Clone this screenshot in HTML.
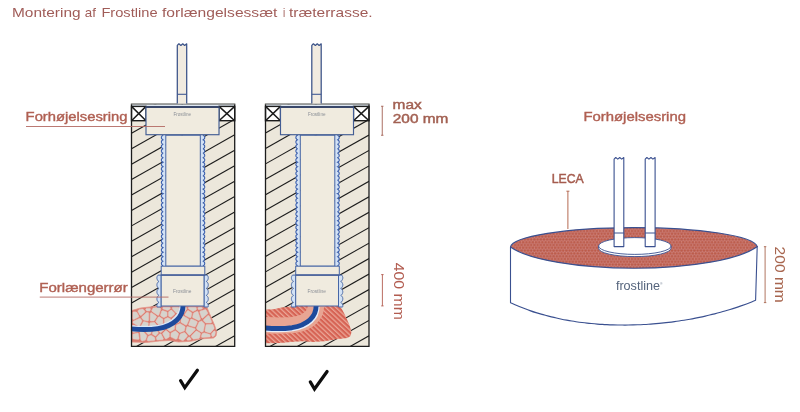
<!DOCTYPE html>
<html lang="da">
<head>
<meta charset="utf-8">
<title>Montering af Frostline forlængelsessæt i træterrasse</title>
<style>html,body{margin:0;padding:0;background:#fff;overflow:hidden}svg{display:block;will-change:transform}</style>
</head>
<body>
<svg width="800" height="412" viewBox="0 0 800 412" role="img" aria-label="Montering af Frostline forlængelsessæt i træterrasse">
<style>.t{font-family:"Liberation Sans",sans-serif}</style>
<rect width="800" height="412" fill="#fff"/>
<text y="17.4" font-size="13.3" fill="#a05c58" class="t"><tspan x="12" textLength="68.6" lengthAdjust="spacingAndGlyphs">Montering</tspan> <tspan x="84.8" textLength="11.1" lengthAdjust="spacingAndGlyphs">af</tspan> <tspan x="101.4" textLength="56.2" lengthAdjust="spacingAndGlyphs">Frostline</tspan> <tspan x="162.0" textLength="115.4" lengthAdjust="spacingAndGlyphs">forlængelsessæt</tspan> <tspan x="283.0" textLength="2.2" lengthAdjust="spacingAndGlyphs">i</tspan> <tspan x="289.0" textLength="83.6" lengthAdjust="spacingAndGlyphs">træterrasse.</tspan></text>
<rect x="131.5" y="104.25" width="103.19999999999999" height="242.05" fill="#ece7db"/>
<clipPath id="clip1L"><rect x="131.5" y="104.25" width="51.5" height="242.05"/></clipPath>
<clipPath id="clip1R"><rect x="183.0" y="104.25" width="51.69999999999999" height="242.05"/></clipPath>
<g clip-path="url(#clip1L)" stroke="#1c1c1c" stroke-width="1.1" fill="none">
<line x1="131.5" y1="117.87" x2="183.0" y2="88.77"/>
<line x1="131.5" y1="133.30" x2="183.0" y2="104.20"/>
<line x1="131.5" y1="148.73" x2="183.0" y2="119.63"/>
<line x1="131.5" y1="164.16" x2="183.0" y2="135.06"/>
<line x1="131.5" y1="179.59" x2="183.0" y2="150.49"/>
<line x1="131.5" y1="195.02" x2="183.0" y2="165.92"/>
<line x1="131.5" y1="210.45" x2="183.0" y2="181.35"/>
<line x1="131.5" y1="225.88" x2="183.0" y2="196.78"/>
<line x1="131.5" y1="241.31" x2="183.0" y2="212.21"/>
<line x1="131.5" y1="256.74" x2="183.0" y2="227.64"/>
<line x1="131.5" y1="272.17" x2="183.0" y2="243.07"/>
<line x1="131.5" y1="287.60" x2="183.0" y2="258.50"/>
<line x1="131.5" y1="303.03" x2="183.0" y2="273.93"/>
<line x1="131.5" y1="318.46" x2="183.0" y2="289.36"/>
<line x1="131.5" y1="333.89" x2="183.0" y2="304.79"/>
<line x1="131.5" y1="349.32" x2="183.0" y2="320.22"/>
<line x1="131.5" y1="364.75" x2="183.0" y2="335.65"/>
<line x1="131.5" y1="380.18" x2="183.0" y2="351.08"/>
<line x1="131.5" y1="395.61" x2="183.0" y2="366.51"/>
<line x1="131.5" y1="411.04" x2="183.0" y2="381.94"/>
<line x1="131.5" y1="426.47" x2="183.0" y2="397.37"/>
</g>
<g clip-path="url(#clip1R)" stroke="#1c1c1c" stroke-width="1.1" fill="none">
<line x1="234.7" y1="119.35" x2="183.0" y2="148.56"/>
<line x1="234.7" y1="134.80" x2="183.0" y2="164.01"/>
<line x1="234.7" y1="150.25" x2="183.0" y2="179.46"/>
<line x1="234.7" y1="165.70" x2="183.0" y2="194.91"/>
<line x1="234.7" y1="181.15" x2="183.0" y2="210.36"/>
<line x1="234.7" y1="196.60" x2="183.0" y2="225.81"/>
<line x1="234.7" y1="212.05" x2="183.0" y2="241.26"/>
<line x1="234.7" y1="227.50" x2="183.0" y2="256.71"/>
<line x1="234.7" y1="242.95" x2="183.0" y2="272.16"/>
<line x1="234.7" y1="258.40" x2="183.0" y2="287.61"/>
<line x1="234.7" y1="273.85" x2="183.0" y2="303.06"/>
<line x1="234.7" y1="289.30" x2="183.0" y2="318.51"/>
<line x1="234.7" y1="304.75" x2="183.0" y2="333.96"/>
<line x1="234.7" y1="320.20" x2="183.0" y2="349.41"/>
<line x1="234.7" y1="335.65" x2="183.0" y2="364.86"/>
<line x1="234.7" y1="351.10" x2="183.0" y2="380.31"/>
<line x1="234.7" y1="366.55" x2="183.0" y2="395.76"/>
<line x1="234.7" y1="382.00" x2="183.0" y2="411.21"/>
<line x1="234.7" y1="397.45" x2="183.0" y2="426.66"/>
<line x1="234.7" y1="412.90" x2="183.0" y2="442.11"/>
<line x1="234.7" y1="428.35" x2="183.0" y2="457.56"/>
</g>
<path d="M131.5,342.0 131.5,342.0 131.5,342.0 146.5,342.5 146.5,342.5 146.5,342.5 159.5,341.0 159.5,341.0 169.4,340.5 169.5,340.5 169.6,340.5 178.5,342.0 178.5,342.0 178.5,342.0 190.5,341.3 190.5,341.3 202.4,338.8 202.6,338.8 213.5,338.0 213.5,338.0 213.5,338.0 216.0,336.0 216.0,336.0 216.0,336.0 216.8,332.0 216.8,332.0 216.8,332.0 214.5,325.0 214.5,325.0 209.5,313.5 209.5,313.5 207.0,307.5 207.0,307.5 207.0,307.5 203.5,306.0 203.5,306.0 203.5,306.0 161.5,306.0 161.5,306.0 156.5,306.2 156.5,306.2 140.5,308.0 140.5,308.0 140.5,308.0 131.5,310.6 131.5,310.6 131.5,310.6Z" fill="#da7c70" stroke="#e3958a" stroke-width="0.8"/>
<path d="M138.3,331.5 138.9,331.2 139.5,330.2 138.7,328.1 134.1,325.2 133.6,325.1 133.0,325.4 132.7,326.1 132.7,331.4 132.9,332.1 133.8,332.4Z M132.7,338.1 132.9,338.7 133.5,339.0 138.2,339.5 138.9,339.2 139.2,338.4 138.4,333.4 137.6,333.1 133.0,334.1 132.7,334.8Z M132.7,318.5 133.0,319.3 133.9,319.5 138.8,317.0 138.9,316.1 136.8,312.3 136.4,311.9 133.6,311.8 132.8,312.3Z M132.8,322.1 133.1,323.0 138.2,326.1 138.8,326.3 139.6,325.8 141.9,321.3 142.0,320.7 140.5,318.6 139.6,318.3 133.2,321.3Z M140.8,339.7 141.6,340.8 142.2,341.1 145.2,340.2 145.6,339.8 146.9,336.1 146.7,335.2 143.0,331.3 140.8,331.2 139.9,332.3Z M140.6,329.1 141.4,329.8 143.0,329.9 143.7,329.6 148.1,325.7 148.4,323.4 148.2,322.8 147.7,322.4 144.2,321.6 143.3,321.8 140.3,327.4 140.2,328.0Z M139.8,315.1 140.5,315.5 141.2,315.4 144.9,312.0 144.8,311.1 142.9,309.1 140.8,309.2 138.9,309.7 138.0,310.7 137.9,311.5Z M143.2,319.8 143.8,320.2 147.6,321.0 148.5,320.6 148.7,320.0 148.8,313.5 148.4,312.6 147.1,312.4 146.5,312.5 141.8,316.8 141.7,317.9Z M145.3,330.0 145.0,330.6 145.1,331.3 147.9,334.4 148.6,334.5 150.3,333.9 150.8,333.5 151.6,330.5 149.2,327.6 148.2,327.5Z M154.0,322.3 150.1,322.8 149.8,323.2 149.6,325.7 152.3,329.0 153.2,329.3 156.1,328.5 157.1,326.0 157.1,325.5 154.7,322.6Z M146.4,310.7 147.1,311.0 149.5,311.0 150.1,310.6 150.5,309.6 150.5,308.7 149.7,308.2 146.2,308.6 145.8,309.0 145.6,309.6Z M151.7,312.8 150.8,312.7 150.2,313.4 150.1,320.4 150.4,320.9 151.0,321.1 153.9,320.9 154.4,320.5 156.5,317.3 156.6,316.5 156.2,315.9Z M147.1,339.6 147.2,340.5 148.3,341.1 154.4,340.4 154.9,340.0 155.1,339.4 154.7,337.5 151.6,335.4 151.0,335.2 148.4,336.2Z M152.5,334.3 155.3,336.0 155.8,335.9 158.3,333.2 158.2,332.3 156.8,330.4 156.3,330.1 153.1,330.9 152.3,333.3Z M158.0,324.2 158.8,324.5 162.2,324.1 162.7,323.8 163.0,323.3 162.9,319.0 159.4,316.7 158.2,317.1 155.7,321.2 155.9,321.9Z M151.8,310.2 151.7,310.8 152.0,311.4 157.6,315.2 158.2,315.4 159.0,314.8 160.8,309.2 160.2,307.8 159.8,307.4 156.6,307.4 153.1,307.9Z M156.3,337.9 156.8,339.8 157.4,340.0 162.5,339.7 163.2,339.3 163.4,338.6 161.3,334.3 160.9,333.9 160.1,333.8 159.5,334.1 156.4,337.2Z M157.7,328.5 157.7,329.4 159.7,332.1 160.2,332.4 161.1,332.5 164.9,329.1 165.0,328.5 164.8,326.8 164.5,326.2 163.3,325.4 159.1,325.9 158.5,326.3Z M163.3,317.5 164.1,317.6 166.9,316.2 167.1,315.7 167.1,312.5 166.5,311.7 162.6,310.4 161.7,311.0 160.4,315.2 160.8,315.9Z M165.4,330.6 162.6,333.4 162.7,334.0 165.3,338.8 166.2,338.9 169.3,337.0 169.4,333.1 166.4,330.6 165.9,330.4Z M165.1,324.9 166.1,325.1 171.3,322.7 171.5,321.9 170.7,319.2 170.4,318.7 167.7,317.5 164.6,318.9 164.4,319.5 164.4,323.9Z M163.6,307.2 163.0,307.4 162.7,307.9 162.7,308.5 163.0,308.9 167.4,310.5 168.0,310.4 170.0,309.0 170.4,308.4 170.2,307.6 169.6,307.2Z M166.4,328.4 166.7,329.0 169.8,331.4 170.7,331.6 174.5,329.3 174.7,325.2 174.3,324.8 172.9,324.0 172.2,323.9 166.7,326.4 166.3,327.0Z M168.9,311.4 168.5,312.1 168.5,315.9 168.9,316.4 170.5,317.2 171.5,317.1 174.7,314.2 174.6,313.1 171.6,310.1 170.8,310.1Z M171.4,332.8 170.9,333.6 170.8,336.5 171.1,337.1 175.5,339.2 176.1,339.2 177.1,338.7 178.6,334.2 178.4,333.3 175.7,331.0 175.1,330.8Z M175.1,323.6 175.9,323.6 178.9,322.3 179.3,321.8 180.0,316.3 179.7,315.7 178.5,314.8 176.3,314.7 172.2,318.6 172.2,319.2 173.1,322.3Z M172.2,308.1 172.4,308.9 176.3,313.0 177.4,313.3 178.2,312.9 179.2,308.3 178.8,307.4 178.2,307.2 173.2,307.2 172.5,307.5Z M176.7,324.8 176.1,325.6 176.0,329.4 179.3,332.3 180.2,332.5 184.3,330.9 185.2,327.2 184.8,326.3 180.0,323.5Z M180.5,314.6 181.3,314.8 182.6,314.5 183.1,314.2 186.7,309.2 186.8,308.6 186.3,307.4 185.6,307.2 181.6,307.2 180.8,307.6 179.6,313.4 179.8,314.0Z M189.8,337.3 189.1,337.0 188.4,337.2 186.9,338.8 186.9,339.4 187.1,339.9 187.9,340.3 190.2,340.1 190.7,339.9 191.0,339.4 191.0,338.8Z M180.6,333.8 180.0,334.5 178.9,338.1 178.9,338.7 179.3,339.1 182.1,340.5 183.4,340.5 187.2,336.5 187.3,335.5 185.2,332.9 184.7,332.6 184.1,332.6Z M185.0,313.9 184.8,314.7 185.2,315.4 189.6,317.8 190.2,317.9 190.7,317.7 191.1,317.2 191.9,313.2 191.4,312.5 188.5,310.6 187.9,310.5 187.3,310.8Z M181.3,316.8 180.9,322.2 181.3,322.6 185.6,325.1 186.3,325.2 186.9,324.6 188.9,319.9 188.9,319.3 188.4,318.7 183.4,315.9 182.0,316.1Z M187.8,326.6 187.1,326.6 186.7,327.1 185.8,331.3 188.7,335.0 189.6,335.3 190.2,335.0 195.1,330.0 195.4,329.1 194.7,328.4Z M190.9,319.1 190.5,319.6 188.6,324.2 188.6,325.1 189.2,325.5 194.5,326.9 195.2,326.8 195.6,326.3 197.3,322.5 197.2,321.6 196.8,321.2 191.9,319.0Z M189.1,307.2 188.6,307.3 188.2,307.8 188.4,308.8 192.6,311.6 193.2,311.5 196.0,310.1 196.5,309.5 196.3,307.8 195.7,307.2Z M191.4,335.7 191.1,336.2 191.2,336.9 193.4,339.3 198.9,338.4 199.6,337.7 200.5,333.6 200.2,333.1 197.1,331.1 196.4,330.9 195.8,331.2Z M193.8,312.8 193.3,313.4 192.5,316.9 192.8,317.8 198.4,320.4 198.9,320.4 200.1,319.8 200.5,318.9 198.0,311.5 197.6,311.2 197.0,311.2Z M201.0,332.0 201.9,332.2 203.0,331.7 203.4,331.3 204.7,324.3 204.4,323.7 202.0,321.2 201.3,320.9 199.0,322.0 196.4,327.9 197.1,329.4Z M198.0,309.1 198.5,309.7 199.2,309.8 202.0,309.0 202.4,308.6 202.5,307.9 201.7,307.2 198.5,307.2 197.8,307.9Z M201.3,336.4 201.6,337.3 202.3,337.6 209.6,337.1 210.2,336.7 210.4,336.1 210.1,334.8 209.6,334.3 204.1,332.8 202.1,333.7Z M201.5,317.6 202.1,318.2 202.9,318.1 207.7,313.8 207.8,313.0 206.0,309.7 205.3,309.6 200.4,310.9 199.8,311.4 199.7,312.2Z M205.4,322.7 206.1,323.0 210.8,323.0 211.7,322.4 211.7,321.6 209.3,316.1 208.9,315.6 207.8,315.6 203.4,319.7 203.4,320.7Z M209.7,332.9 210.7,332.7 214.1,328.7 214.2,328.1 213.2,325.1 212.9,324.6 212.4,324.3 206.5,324.5 205.9,325.2 204.9,330.6 205.0,331.2 205.6,331.7Z M211.8,336.0 212.3,336.7 213.0,336.8 214.8,335.4 215.5,332.1 215.0,331.1 214.4,330.9 213.9,331.1 211.5,333.8 211.4,334.4Z" fill="#d6d3cd" stroke="#ecc3ba" stroke-width="0.5"/>
<path d="M183.0,306 C183.0,316 175.0,326 158.0,328.6 C149.5,329.8 139.5,329.6 131.5,328.9" fill="none" stroke="#dbe8f8" stroke-width="5.5" transform="translate(-0.7,-0.9)"/>
<path d="M183.0,306 C183.0,316 175.0,326 158.0,328.6 C149.5,329.8 139.5,329.6 131.5,328.9" fill="none" stroke="#1d4a9c" stroke-width="4.9"/>
<rect x="131.5" y="104.25" width="103.19999999999999" height="2.6" fill="#dfe8f2"/>
<rect x="131.5" y="106.4" width="14.5" height="14.3" fill="#fff" stroke="#1c1c1c" stroke-width="1.4"/>
<path d="M131.5,106.4 L146.0,120.7 M146.0,106.4 L131.5,120.7" stroke="#1c1c1c" stroke-width="1.5" fill="none"/>
<rect x="219.0" y="106.4" width="15.699999999999989" height="14.3" fill="#fff" stroke="#1c1c1c" stroke-width="1.4"/>
<path d="M219.0,106.4 L234.7,120.7 M234.7,106.4 L219.0,120.7" stroke="#1c1c1c" stroke-width="1.5" fill="none"/>
<path d="M163.2,135.2 162.4,135.6 162.0,135.9 161.8,136.3 161.6,136.6 161.4,137.0 161.4,137.3 161.4,137.7 161.4,138.0 161.6,138.4 161.8,138.7 162.1,139.1 162.5,139.4 163.0,139.8 162.4,140.1 162.0,140.5 161.7,140.8 161.5,141.2 161.4,141.5 161.4,141.9 161.4,142.2 161.5,142.6 161.6,142.9 161.8,143.3 162.1,143.6 162.6,144.0 162.8,144.3 162.3,144.7 161.9,145.0 161.7,145.4 161.5,145.7 161.4,146.1 161.4,146.4 161.4,146.8 161.5,147.1 161.6,147.5 161.9,147.8 162.2,148.2 162.7,148.5 162.7,148.9 162.2,149.2 161.9,149.6 161.7,149.9 161.5,150.3 161.4,150.6 161.4,151.0 161.4,151.3 161.5,151.7 161.7,152.0 161.9,152.4 162.3,152.7 162.8,153.1 162.6,153.4 162.2,153.8 161.9,154.1 161.6,154.5 161.5,154.8 161.4,155.2 161.4,155.5 161.4,155.9 161.5,156.2 161.7,156.6 162.0,156.9 162.3,157.3 162.9,157.6 162.6,158.0 162.1,158.3 161.8,158.7 161.6,159.0 161.4,159.4 161.4,159.7 161.4,160.1 161.4,160.4 161.5,160.8 161.7,161.1 162.0,161.5 162.4,161.8 163.1,162.2 162.5,162.5 162.1,162.9 161.8,163.2 161.6,163.6 161.4,163.9 161.4,164.3 161.4,164.6 161.4,165.0 161.6,165.3 161.8,165.7 162.1,166.0 162.5,166.4 163.1,166.7 162.4,167.1 162.0,167.4 161.7,167.8 161.5,168.1 161.4,168.5 161.4,168.8 161.4,169.2 161.4,169.5 161.6,169.9 161.8,170.2 162.1,170.6 162.6,170.9 162.9,171.3 162.3,171.6 162.0,172.0 161.7,172.3 161.5,172.7 161.4,173.0 161.4,173.4 161.4,173.7 161.5,174.1 161.6,174.4 161.9,174.8 162.2,175.1 162.6,175.5 162.8,175.8 162.3,176.2 161.9,176.5 161.7,176.9 161.5,177.2 161.4,177.6 161.4,177.9 161.4,178.3 161.5,178.6 161.7,179.0 161.9,179.3 162.2,179.7 162.7,180.0 162.7,180.4 162.2,180.7 161.9,181.1 161.6,181.4 161.5,181.8 161.4,182.1 161.4,182.5 161.4,182.8 161.5,183.2 161.7,183.5 161.9,183.9 162.3,184.2 162.8,184.6 162.6,184.9 162.2,185.3 161.8,185.6 161.6,186.0 161.5,186.3 161.4,186.7 161.4,187.0 161.4,187.4 161.5,187.7 161.7,188.1 162.0,188.4 162.4,188.8 163.0,189.1 162.5,189.5 162.1,189.8 161.8,190.2 161.6,190.5 161.4,190.9 161.4,191.2 161.4,191.6 161.4,191.9 161.5,192.3 161.8,192.6 162.0,193.0 162.4,193.3 163.2,193.7 162.4,194.0 162.0,194.4 161.8,194.7 161.6,195.1 161.4,195.4 161.4,195.8 161.4,196.1 161.4,196.5 161.6,196.8 161.8,197.2 162.1,197.5 162.5,197.9 163.0,198.2 162.4,198.6 162.0,198.9 161.7,199.3 161.5,199.6 161.4,200.0 161.4,200.3 161.4,200.7 161.5,201.1 161.6,201.4 161.8,201.8 162.1,202.1 162.6,202.5 162.9,202.8 162.3,203.2 162.0,203.5 161.7,203.9 161.5,204.2 161.4,204.6 161.4,204.9 161.4,205.3 161.5,205.6 161.6,206.0 161.9,206.3 162.2,206.7 162.7,207.0 162.8,207.4 162.2,207.7 161.9,208.1 161.7,208.4 161.5,208.8 161.4,209.1 161.4,209.5 161.4,209.8 161.5,210.2 161.7,210.5 161.9,210.9 162.3,211.2 162.8,211.6 162.7,211.9 162.2,212.3 161.9,212.6 161.6,213.0 161.5,213.3 161.4,213.7 161.4,214.0 161.4,214.4 161.5,214.7 161.7,215.1 162.0,215.4 162.3,215.8 162.9,216.1 162.6,216.5 162.1,216.8 161.8,217.2 161.6,217.5 161.4,217.9 161.4,218.2 161.4,218.6 161.4,218.9 161.5,219.3 161.7,219.6 162.0,220.0 162.4,220.3 163.0,220.7 162.5,221.0 162.1,221.4 161.8,221.7 161.6,222.1 161.4,222.4 161.4,222.8 161.4,223.1 161.4,223.5 161.6,223.8 161.8,224.2 162.1,224.5 162.5,224.9 163.1,225.2 162.4,225.6 162.0,225.9 161.7,226.3 161.5,226.6 161.4,227.0 161.4,227.3 161.4,227.7 161.4,228.0 161.6,228.4 161.8,228.7 162.1,229.1 162.5,229.4 162.9,229.8 162.3,230.1 162.0,230.5 161.7,230.8 161.5,231.2 161.4,231.5 161.4,231.9 161.4,232.2 161.5,232.6 161.6,232.9 161.8,233.3 162.2,233.6 162.6,234.0 162.8,234.3 162.3,234.7 161.9,235.0 161.7,235.4 161.5,235.7 161.4,236.1 161.4,236.4 161.4,236.8 161.5,237.1 161.6,237.5 161.9,237.8 162.2,238.2 162.7,238.5 162.7,238.9 162.2,239.2 161.9,239.6 161.6,239.9 161.5,240.3 161.4,240.6 161.4,241.0 161.4,241.3 161.5,241.7 161.7,242.0 161.9,242.4 162.3,242.7 162.8,243.1 162.6,243.4 162.2,243.8 161.8,244.1 161.6,244.5 161.5,244.8 161.4,245.2 161.4,245.5 161.4,245.9 161.5,246.2 161.7,246.6 162.0,246.9 162.4,247.3 163.0,247.6 162.5,248.0 162.1,248.3 161.8,248.7 161.6,249.0 161.4,249.4 161.4,249.7 161.4,250.1 161.4,250.4 161.5,250.8 161.7,251.1 162.0,251.5 162.4,251.8 163.1,252.2 162.5,252.5 162.1,252.9 161.8,253.2 161.6,253.6 161.4,253.9 161.4,254.3 161.4,254.6 161.4,255.0 161.6,255.3 161.8,255.7 162.1,256.0 162.5,256.4 163.0,256.7 162.4,257.1 162.0,257.4 161.7,257.8 161.5,258.1 161.4,258.5 161.4,258.8 161.4,259.2 161.4,259.5 161.6,259.9 161.8,260.2 162.1,260.6 162.6,260.9 162.9,261.3 162.3,261.6 162.0,262.0 161.7,262.3 161.5,262.7 161.4,263.0 161.4,263.4 161.4,263.7 161.5,264.1 161.6,264.4 161.9,264.8 162.2,265.1 162.7,265.5 162.8,265.8 162.3,266.2 165.8,266.2 165.8,135.2Z" fill="#d3e2f5" stroke="none"/>
<path d="M163.2,135.2 162.4,135.6 162.0,135.9 161.8,136.3 161.6,136.6 161.4,137.0 161.4,137.3 161.4,137.7 161.4,138.0 161.6,138.4 161.8,138.7 162.1,139.1 162.5,139.4 163.0,139.8 162.4,140.1 162.0,140.5 161.7,140.8 161.5,141.2 161.4,141.5 161.4,141.9 161.4,142.2 161.5,142.6 161.6,142.9 161.8,143.3 162.1,143.6 162.6,144.0 162.8,144.3 162.3,144.7 161.9,145.0 161.7,145.4 161.5,145.7 161.4,146.1 161.4,146.4 161.4,146.8 161.5,147.1 161.6,147.5 161.9,147.8 162.2,148.2 162.7,148.5 162.7,148.9 162.2,149.2 161.9,149.6 161.7,149.9 161.5,150.3 161.4,150.6 161.4,151.0 161.4,151.3 161.5,151.7 161.7,152.0 161.9,152.4 162.3,152.7 162.8,153.1 162.6,153.4 162.2,153.8 161.9,154.1 161.6,154.5 161.5,154.8 161.4,155.2 161.4,155.5 161.4,155.9 161.5,156.2 161.7,156.6 162.0,156.9 162.3,157.3 162.9,157.6 162.6,158.0 162.1,158.3 161.8,158.7 161.6,159.0 161.4,159.4 161.4,159.7 161.4,160.1 161.4,160.4 161.5,160.8 161.7,161.1 162.0,161.5 162.4,161.8 163.1,162.2 162.5,162.5 162.1,162.9 161.8,163.2 161.6,163.6 161.4,163.9 161.4,164.3 161.4,164.6 161.4,165.0 161.6,165.3 161.8,165.7 162.1,166.0 162.5,166.4 163.1,166.7 162.4,167.1 162.0,167.4 161.7,167.8 161.5,168.1 161.4,168.5 161.4,168.8 161.4,169.2 161.4,169.5 161.6,169.9 161.8,170.2 162.1,170.6 162.6,170.9 162.9,171.3 162.3,171.6 162.0,172.0 161.7,172.3 161.5,172.7 161.4,173.0 161.4,173.4 161.4,173.7 161.5,174.1 161.6,174.4 161.9,174.8 162.2,175.1 162.6,175.5 162.8,175.8 162.3,176.2 161.9,176.5 161.7,176.9 161.5,177.2 161.4,177.6 161.4,177.9 161.4,178.3 161.5,178.6 161.7,179.0 161.9,179.3 162.2,179.7 162.7,180.0 162.7,180.4 162.2,180.7 161.9,181.1 161.6,181.4 161.5,181.8 161.4,182.1 161.4,182.5 161.4,182.8 161.5,183.2 161.7,183.5 161.9,183.9 162.3,184.2 162.8,184.6 162.6,184.9 162.2,185.3 161.8,185.6 161.6,186.0 161.5,186.3 161.4,186.7 161.4,187.0 161.4,187.4 161.5,187.7 161.7,188.1 162.0,188.4 162.4,188.8 163.0,189.1 162.5,189.5 162.1,189.8 161.8,190.2 161.6,190.5 161.4,190.9 161.4,191.2 161.4,191.6 161.4,191.9 161.5,192.3 161.8,192.6 162.0,193.0 162.4,193.3 163.2,193.7 162.4,194.0 162.0,194.4 161.8,194.7 161.6,195.1 161.4,195.4 161.4,195.8 161.4,196.1 161.4,196.5 161.6,196.8 161.8,197.2 162.1,197.5 162.5,197.9 163.0,198.2 162.4,198.6 162.0,198.9 161.7,199.3 161.5,199.6 161.4,200.0 161.4,200.3 161.4,200.7 161.5,201.1 161.6,201.4 161.8,201.8 162.1,202.1 162.6,202.5 162.9,202.8 162.3,203.2 162.0,203.5 161.7,203.9 161.5,204.2 161.4,204.6 161.4,204.9 161.4,205.3 161.5,205.6 161.6,206.0 161.9,206.3 162.2,206.7 162.7,207.0 162.8,207.4 162.2,207.7 161.9,208.1 161.7,208.4 161.5,208.8 161.4,209.1 161.4,209.5 161.4,209.8 161.5,210.2 161.7,210.5 161.9,210.9 162.3,211.2 162.8,211.6 162.7,211.9 162.2,212.3 161.9,212.6 161.6,213.0 161.5,213.3 161.4,213.7 161.4,214.0 161.4,214.4 161.5,214.7 161.7,215.1 162.0,215.4 162.3,215.8 162.9,216.1 162.6,216.5 162.1,216.8 161.8,217.2 161.6,217.5 161.4,217.9 161.4,218.2 161.4,218.6 161.4,218.9 161.5,219.3 161.7,219.6 162.0,220.0 162.4,220.3 163.0,220.7 162.5,221.0 162.1,221.4 161.8,221.7 161.6,222.1 161.4,222.4 161.4,222.8 161.4,223.1 161.4,223.5 161.6,223.8 161.8,224.2 162.1,224.5 162.5,224.9 163.1,225.2 162.4,225.6 162.0,225.9 161.7,226.3 161.5,226.6 161.4,227.0 161.4,227.3 161.4,227.7 161.4,228.0 161.6,228.4 161.8,228.7 162.1,229.1 162.5,229.4 162.9,229.8 162.3,230.1 162.0,230.5 161.7,230.8 161.5,231.2 161.4,231.5 161.4,231.9 161.4,232.2 161.5,232.6 161.6,232.9 161.8,233.3 162.2,233.6 162.6,234.0 162.8,234.3 162.3,234.7 161.9,235.0 161.7,235.4 161.5,235.7 161.4,236.1 161.4,236.4 161.4,236.8 161.5,237.1 161.6,237.5 161.9,237.8 162.2,238.2 162.7,238.5 162.7,238.9 162.2,239.2 161.9,239.6 161.6,239.9 161.5,240.3 161.4,240.6 161.4,241.0 161.4,241.3 161.5,241.7 161.7,242.0 161.9,242.4 162.3,242.7 162.8,243.1 162.6,243.4 162.2,243.8 161.8,244.1 161.6,244.5 161.5,244.8 161.4,245.2 161.4,245.5 161.4,245.9 161.5,246.2 161.7,246.6 162.0,246.9 162.4,247.3 163.0,247.6 162.5,248.0 162.1,248.3 161.8,248.7 161.6,249.0 161.4,249.4 161.4,249.7 161.4,250.1 161.4,250.4 161.5,250.8 161.7,251.1 162.0,251.5 162.4,251.8 163.1,252.2 162.5,252.5 162.1,252.9 161.8,253.2 161.6,253.6 161.4,253.9 161.4,254.3 161.4,254.6 161.4,255.0 161.6,255.3 161.8,255.7 162.1,256.0 162.5,256.4 163.0,256.7 162.4,257.1 162.0,257.4 161.7,257.8 161.5,258.1 161.4,258.5 161.4,258.8 161.4,259.2 161.4,259.5 161.6,259.9 161.8,260.2 162.1,260.6 162.6,260.9 162.9,261.3 162.3,261.6 162.0,262.0 161.7,262.3 161.5,262.7 161.4,263.0 161.4,263.4 161.4,263.7 161.5,264.1 161.6,264.4 161.9,264.8 162.2,265.1 162.7,265.5 162.8,265.8 162.3,266.2" fill="none" stroke="#3a5fae" stroke-width="1.1"/>
<path d="M202.9,135.2 203.7,135.6 204.1,135.9 204.3,136.3 204.5,136.6 204.7,137.0 204.7,137.3 204.7,137.7 204.7,138.0 204.5,138.4 204.3,138.7 204.0,139.1 203.6,139.4 203.1,139.8 203.7,140.1 204.1,140.5 204.4,140.8 204.6,141.2 204.7,141.5 204.7,141.9 204.7,142.2 204.6,142.6 204.5,142.9 204.3,143.3 204.0,143.6 203.5,144.0 203.3,144.3 203.8,144.7 204.2,145.0 204.4,145.4 204.6,145.7 204.7,146.1 204.7,146.4 204.7,146.8 204.6,147.1 204.5,147.5 204.2,147.8 203.9,148.2 203.4,148.5 203.4,148.9 203.9,149.2 204.2,149.6 204.4,149.9 204.6,150.3 204.7,150.6 204.7,151.0 204.7,151.3 204.6,151.7 204.4,152.0 204.2,152.4 203.8,152.7 203.3,153.1 203.5,153.4 203.9,153.8 204.2,154.1 204.5,154.5 204.6,154.8 204.7,155.2 204.7,155.5 204.7,155.9 204.6,156.2 204.4,156.6 204.1,156.9 203.8,157.3 203.2,157.6 203.5,158.0 204.0,158.3 204.3,158.7 204.5,159.0 204.7,159.4 204.7,159.7 204.7,160.1 204.7,160.4 204.6,160.8 204.4,161.1 204.1,161.5 203.7,161.8 203.0,162.2 203.6,162.5 204.0,162.9 204.3,163.2 204.5,163.6 204.7,163.9 204.7,164.3 204.7,164.6 204.7,165.0 204.5,165.3 204.3,165.7 204.0,166.0 203.6,166.4 203.0,166.7 203.7,167.1 204.1,167.4 204.4,167.8 204.6,168.1 204.7,168.5 204.7,168.8 204.7,169.2 204.7,169.5 204.5,169.9 204.3,170.2 204.0,170.6 203.5,170.9 203.2,171.3 203.8,171.6 204.1,172.0 204.4,172.3 204.6,172.7 204.7,173.0 204.7,173.4 204.7,173.7 204.6,174.1 204.5,174.4 204.2,174.8 203.9,175.1 203.5,175.5 203.3,175.8 203.8,176.2 204.2,176.5 204.4,176.9 204.6,177.2 204.7,177.6 204.7,177.9 204.7,178.3 204.6,178.6 204.4,179.0 204.2,179.3 203.9,179.7 203.4,180.0 203.4,180.4 203.9,180.7 204.2,181.1 204.5,181.4 204.6,181.8 204.7,182.1 204.7,182.5 204.7,182.8 204.6,183.2 204.4,183.5 204.2,183.9 203.8,184.2 203.3,184.6 203.5,184.9 203.9,185.3 204.3,185.6 204.5,186.0 204.6,186.3 204.7,186.7 204.7,187.0 204.7,187.4 204.6,187.7 204.4,188.1 204.1,188.4 203.7,188.8 203.1,189.1 203.6,189.5 204.0,189.8 204.3,190.2 204.5,190.5 204.7,190.9 204.7,191.2 204.7,191.6 204.7,191.9 204.6,192.3 204.3,192.6 204.1,193.0 203.7,193.3 202.9,193.7 203.7,194.0 204.1,194.4 204.3,194.7 204.5,195.1 204.7,195.4 204.7,195.8 204.7,196.1 204.7,196.5 204.5,196.8 204.3,197.2 204.0,197.5 203.6,197.9 203.1,198.2 203.7,198.6 204.1,198.9 204.4,199.3 204.6,199.6 204.7,200.0 204.7,200.3 204.7,200.7 204.6,201.1 204.5,201.4 204.3,201.8 204.0,202.1 203.5,202.5 203.2,202.8 203.8,203.2 204.1,203.5 204.4,203.9 204.6,204.2 204.7,204.6 204.7,204.9 204.7,205.3 204.6,205.6 204.5,206.0 204.2,206.3 203.9,206.7 203.4,207.0 203.3,207.4 203.9,207.7 204.2,208.1 204.4,208.4 204.6,208.8 204.7,209.1 204.7,209.5 204.7,209.8 204.6,210.2 204.4,210.5 204.2,210.9 203.8,211.2 203.3,211.6 203.4,211.9 203.9,212.3 204.2,212.6 204.5,213.0 204.6,213.3 204.7,213.7 204.7,214.0 204.7,214.4 204.6,214.7 204.4,215.1 204.1,215.4 203.8,215.8 203.2,216.1 203.5,216.5 204.0,216.8 204.3,217.2 204.5,217.5 204.7,217.9 204.7,218.2 204.7,218.6 204.7,218.9 204.6,219.3 204.4,219.6 204.1,220.0 203.7,220.3 203.1,220.7 203.6,221.0 204.0,221.4 204.3,221.7 204.5,222.1 204.7,222.4 204.7,222.8 204.7,223.1 204.7,223.5 204.5,223.8 204.3,224.2 204.0,224.5 203.6,224.9 203.0,225.2 203.7,225.6 204.1,225.9 204.4,226.3 204.6,226.6 204.7,227.0 204.7,227.3 204.7,227.7 204.7,228.0 204.5,228.4 204.3,228.7 204.0,229.1 203.6,229.4 203.2,229.8 203.8,230.1 204.1,230.5 204.4,230.8 204.6,231.2 204.7,231.5 204.7,231.9 204.7,232.2 204.6,232.6 204.5,232.9 204.3,233.3 203.9,233.6 203.5,234.0 203.3,234.3 203.8,234.7 204.2,235.0 204.4,235.4 204.6,235.7 204.7,236.1 204.7,236.4 204.7,236.8 204.6,237.1 204.5,237.5 204.2,237.8 203.9,238.2 203.4,238.5 203.4,238.9 203.9,239.2 204.2,239.6 204.5,239.9 204.6,240.3 204.7,240.6 204.7,241.0 204.7,241.3 204.6,241.7 204.4,242.0 204.2,242.4 203.8,242.7 203.3,243.1 203.5,243.4 203.9,243.8 204.3,244.1 204.5,244.5 204.6,244.8 204.7,245.2 204.7,245.5 204.7,245.9 204.6,246.2 204.4,246.6 204.1,246.9 203.7,247.3 203.1,247.6 203.6,248.0 204.0,248.3 204.3,248.7 204.5,249.0 204.7,249.4 204.7,249.7 204.7,250.1 204.7,250.4 204.6,250.8 204.4,251.1 204.1,251.5 203.7,251.8 203.0,252.2 203.6,252.5 204.0,252.9 204.3,253.2 204.5,253.6 204.7,253.9 204.7,254.3 204.7,254.6 204.7,255.0 204.5,255.3 204.3,255.7 204.0,256.0 203.6,256.4 203.1,256.7 203.7,257.1 204.1,257.4 204.4,257.8 204.6,258.1 204.7,258.5 204.7,258.8 204.7,259.2 204.7,259.5 204.5,259.9 204.3,260.2 204.0,260.6 203.5,260.9 203.2,261.3 203.8,261.6 204.1,262.0 204.4,262.3 204.6,262.7 204.7,263.0 204.7,263.4 204.7,263.7 204.6,264.1 204.5,264.4 204.2,264.8 203.9,265.1 203.4,265.5 203.3,265.8 203.8,266.2 200.3,266.2 200.3,135.2Z" fill="#d3e2f5" stroke="none"/>
<path d="M202.9,135.2 203.7,135.6 204.1,135.9 204.3,136.3 204.5,136.6 204.7,137.0 204.7,137.3 204.7,137.7 204.7,138.0 204.5,138.4 204.3,138.7 204.0,139.1 203.6,139.4 203.1,139.8 203.7,140.1 204.1,140.5 204.4,140.8 204.6,141.2 204.7,141.5 204.7,141.9 204.7,142.2 204.6,142.6 204.5,142.9 204.3,143.3 204.0,143.6 203.5,144.0 203.3,144.3 203.8,144.7 204.2,145.0 204.4,145.4 204.6,145.7 204.7,146.1 204.7,146.4 204.7,146.8 204.6,147.1 204.5,147.5 204.2,147.8 203.9,148.2 203.4,148.5 203.4,148.9 203.9,149.2 204.2,149.6 204.4,149.9 204.6,150.3 204.7,150.6 204.7,151.0 204.7,151.3 204.6,151.7 204.4,152.0 204.2,152.4 203.8,152.7 203.3,153.1 203.5,153.4 203.9,153.8 204.2,154.1 204.5,154.5 204.6,154.8 204.7,155.2 204.7,155.5 204.7,155.9 204.6,156.2 204.4,156.6 204.1,156.9 203.8,157.3 203.2,157.6 203.5,158.0 204.0,158.3 204.3,158.7 204.5,159.0 204.7,159.4 204.7,159.7 204.7,160.1 204.7,160.4 204.6,160.8 204.4,161.1 204.1,161.5 203.7,161.8 203.0,162.2 203.6,162.5 204.0,162.9 204.3,163.2 204.5,163.6 204.7,163.9 204.7,164.3 204.7,164.6 204.7,165.0 204.5,165.3 204.3,165.7 204.0,166.0 203.6,166.4 203.0,166.7 203.7,167.1 204.1,167.4 204.4,167.8 204.6,168.1 204.7,168.5 204.7,168.8 204.7,169.2 204.7,169.5 204.5,169.9 204.3,170.2 204.0,170.6 203.5,170.9 203.2,171.3 203.8,171.6 204.1,172.0 204.4,172.3 204.6,172.7 204.7,173.0 204.7,173.4 204.7,173.7 204.6,174.1 204.5,174.4 204.2,174.8 203.9,175.1 203.5,175.5 203.3,175.8 203.8,176.2 204.2,176.5 204.4,176.9 204.6,177.2 204.7,177.6 204.7,177.9 204.7,178.3 204.6,178.6 204.4,179.0 204.2,179.3 203.9,179.7 203.4,180.0 203.4,180.4 203.9,180.7 204.2,181.1 204.5,181.4 204.6,181.8 204.7,182.1 204.7,182.5 204.7,182.8 204.6,183.2 204.4,183.5 204.2,183.9 203.8,184.2 203.3,184.6 203.5,184.9 203.9,185.3 204.3,185.6 204.5,186.0 204.6,186.3 204.7,186.7 204.7,187.0 204.7,187.4 204.6,187.7 204.4,188.1 204.1,188.4 203.7,188.8 203.1,189.1 203.6,189.5 204.0,189.8 204.3,190.2 204.5,190.5 204.7,190.9 204.7,191.2 204.7,191.6 204.7,191.9 204.6,192.3 204.3,192.6 204.1,193.0 203.7,193.3 202.9,193.7 203.7,194.0 204.1,194.4 204.3,194.7 204.5,195.1 204.7,195.4 204.7,195.8 204.7,196.1 204.7,196.5 204.5,196.8 204.3,197.2 204.0,197.5 203.6,197.9 203.1,198.2 203.7,198.6 204.1,198.9 204.4,199.3 204.6,199.6 204.7,200.0 204.7,200.3 204.7,200.7 204.6,201.1 204.5,201.4 204.3,201.8 204.0,202.1 203.5,202.5 203.2,202.8 203.8,203.2 204.1,203.5 204.4,203.9 204.6,204.2 204.7,204.6 204.7,204.9 204.7,205.3 204.6,205.6 204.5,206.0 204.2,206.3 203.9,206.7 203.4,207.0 203.3,207.4 203.9,207.7 204.2,208.1 204.4,208.4 204.6,208.8 204.7,209.1 204.7,209.5 204.7,209.8 204.6,210.2 204.4,210.5 204.2,210.9 203.8,211.2 203.3,211.6 203.4,211.9 203.9,212.3 204.2,212.6 204.5,213.0 204.6,213.3 204.7,213.7 204.7,214.0 204.7,214.4 204.6,214.7 204.4,215.1 204.1,215.4 203.8,215.8 203.2,216.1 203.5,216.5 204.0,216.8 204.3,217.2 204.5,217.5 204.7,217.9 204.7,218.2 204.7,218.6 204.7,218.9 204.6,219.3 204.4,219.6 204.1,220.0 203.7,220.3 203.1,220.7 203.6,221.0 204.0,221.4 204.3,221.7 204.5,222.1 204.7,222.4 204.7,222.8 204.7,223.1 204.7,223.5 204.5,223.8 204.3,224.2 204.0,224.5 203.6,224.9 203.0,225.2 203.7,225.6 204.1,225.9 204.4,226.3 204.6,226.6 204.7,227.0 204.7,227.3 204.7,227.7 204.7,228.0 204.5,228.4 204.3,228.7 204.0,229.1 203.6,229.4 203.2,229.8 203.8,230.1 204.1,230.5 204.4,230.8 204.6,231.2 204.7,231.5 204.7,231.9 204.7,232.2 204.6,232.6 204.5,232.9 204.3,233.3 203.9,233.6 203.5,234.0 203.3,234.3 203.8,234.7 204.2,235.0 204.4,235.4 204.6,235.7 204.7,236.1 204.7,236.4 204.7,236.8 204.6,237.1 204.5,237.5 204.2,237.8 203.9,238.2 203.4,238.5 203.4,238.9 203.9,239.2 204.2,239.6 204.5,239.9 204.6,240.3 204.7,240.6 204.7,241.0 204.7,241.3 204.6,241.7 204.4,242.0 204.2,242.4 203.8,242.7 203.3,243.1 203.5,243.4 203.9,243.8 204.3,244.1 204.5,244.5 204.6,244.8 204.7,245.2 204.7,245.5 204.7,245.9 204.6,246.2 204.4,246.6 204.1,246.9 203.7,247.3 203.1,247.6 203.6,248.0 204.0,248.3 204.3,248.7 204.5,249.0 204.7,249.4 204.7,249.7 204.7,250.1 204.7,250.4 204.6,250.8 204.4,251.1 204.1,251.5 203.7,251.8 203.0,252.2 203.6,252.5 204.0,252.9 204.3,253.2 204.5,253.6 204.7,253.9 204.7,254.3 204.7,254.6 204.7,255.0 204.5,255.3 204.3,255.7 204.0,256.0 203.6,256.4 203.1,256.7 203.7,257.1 204.1,257.4 204.4,257.8 204.6,258.1 204.7,258.5 204.7,258.8 204.7,259.2 204.7,259.5 204.5,259.9 204.3,260.2 204.0,260.6 203.5,260.9 203.2,261.3 203.8,261.6 204.1,262.0 204.4,262.3 204.6,262.7 204.7,263.0 204.7,263.4 204.7,263.7 204.6,264.1 204.5,264.4 204.2,264.8 203.9,265.1 203.4,265.5 203.3,265.8 203.8,266.2" fill="none" stroke="#3a5fae" stroke-width="1.1"/>
<rect x="165.8" y="135.2" width="34.5" height="131" fill="#f0ebdf" stroke="#4666a6" stroke-width="1.0"/>
<rect x="146.0" y="107.0" width="73.0" height="27.7" fill="#f0ebdf" stroke="#435d94" stroke-width="1.15"/>
<line x1="146.0" y1="106.9" x2="219.0" y2="106.9" stroke="#39476a" stroke-width="2.0"/>
<path d="M131.5,104.25 V346.3 H234.7 V104.25" fill="none" stroke="#1c1c1c" stroke-width="1.3"/>
<line x1="130.85" y1="104.05" x2="235.35" y2="104.05" stroke="#4a4d48" stroke-width="1.1"/>
<path d="M158.0,275.1 157.7,275.5 157.5,275.8 157.3,276.2 157.2,276.5 157.0,276.9 157.0,277.2 156.9,277.6 156.9,277.9 156.9,278.3 157.0,278.6 157.0,279.0 157.2,279.3 157.3,279.7 157.5,280.0 157.7,280.4 158.0,280.7 158.4,281.1 159.0,281.4 158.4,281.8 158.0,282.1 157.7,282.5 157.5,282.8 157.3,283.2 157.2,283.5 157.0,283.9 157.0,284.2 156.9,284.6 156.9,284.9 156.9,285.3 157.0,285.6 157.1,286.0 157.2,286.3 157.3,286.7 157.5,287.0 157.7,287.4 158.0,287.7 158.4,288.1 159.0,288.4 158.4,288.8 158.0,289.1 157.7,289.5 157.5,289.8 157.3,290.2 157.2,290.5 157.0,290.9 157.0,291.2 156.9,291.6 156.9,291.9 156.9,292.3 157.0,292.6 157.1,293.0 157.2,293.3 157.3,293.7 157.5,294.0 157.8,294.4 158.0,294.7 158.4,295.1 158.9,295.4 158.3,295.8 158.0,296.1 157.7,296.5 157.5,296.8 157.3,297.2 157.1,297.5 157.0,297.9 157.0,298.2 156.9,298.6 156.9,298.9 156.9,299.3 157.0,299.6 157.1,300.0 157.2,300.3 157.3,300.7 157.5,301.0 157.8,301.4 158.1,301.7 158.4,302.1 158.9,302.4 158.3,302.8 158.0,303.1 157.7,303.5 157.5,303.8 157.3,304.2 157.1,304.5 157.0,304.9 157.0,305.2 156.9,305.6 156.9,305.9 156.9,306.3 157.0,306.6 157.1,307.0 161.2,307.0 161.2,275.1Z" fill="#d3e2f5" stroke="#4666a6" stroke-width="1.0"/>
<path d="M207.2,275.1 207.5,275.5 207.7,275.8 207.9,276.2 208.0,276.5 208.2,276.9 208.2,277.2 208.3,277.6 208.3,277.9 208.3,278.3 208.2,278.6 208.2,279.0 208.0,279.3 207.9,279.7 207.7,280.0 207.5,280.4 207.2,280.7 206.8,281.1 206.2,281.4 206.8,281.8 207.2,282.1 207.5,282.5 207.7,282.8 207.9,283.2 208.0,283.5 208.2,283.9 208.2,284.2 208.3,284.6 208.3,284.9 208.3,285.3 208.2,285.6 208.1,286.0 208.0,286.3 207.9,286.7 207.7,287.0 207.5,287.4 207.2,287.7 206.8,288.1 206.2,288.4 206.8,288.8 207.2,289.1 207.5,289.5 207.7,289.8 207.9,290.2 208.0,290.5 208.2,290.9 208.2,291.2 208.3,291.6 208.3,291.9 208.3,292.3 208.2,292.6 208.1,293.0 208.0,293.3 207.9,293.7 207.7,294.0 207.4,294.4 207.2,294.7 206.8,295.1 206.3,295.4 206.9,295.8 207.2,296.1 207.5,296.5 207.7,296.8 207.9,297.2 208.1,297.5 208.2,297.9 208.2,298.2 208.3,298.6 208.3,298.9 208.3,299.3 208.2,299.6 208.1,300.0 208.0,300.3 207.9,300.7 207.7,301.0 207.4,301.4 207.1,301.7 206.8,302.1 206.3,302.4 206.9,302.8 207.2,303.1 207.5,303.5 207.7,303.8 207.9,304.2 208.1,304.5 208.2,304.9 208.2,305.2 208.3,305.6 208.3,305.9 208.3,306.3 208.2,306.6 208.1,307.0 204.0,307.0 204.0,275.1Z" fill="#d3e2f5" stroke="#4666a6" stroke-width="1.0"/>
<rect x="161.2" y="266.2" width="43.60000000000002" height="8.9" fill="#f0ebdf" stroke="#4666a6" stroke-width="1.0"/>
<rect x="161.2" y="275.1" width="42.800000000000026" height="30.9" fill="#f0ebdf" stroke="#4666a6" stroke-width="1.0"/>
<line x1="161.2" y1="275.1" x2="204.8" y2="275.1" stroke="#425a94" stroke-width="1.3"/>
<text x="182.2" y="115.6" font-size="4.6" fill="#8c9097" text-anchor="middle" class="t">Frostline</text>
<text x="182.2" y="292.7" font-size="4.8" fill="#8c9097" text-anchor="middle" class="t">Frostline</text>
<path d="M177.30,103.6 V45.40 L178.90,43.80 L180.87,45.40 L182.75,43.80 L184.63,45.40 L186.70,43.80 V103.6" fill="#f1ebe0" stroke="#3a5288" stroke-width="1.25" stroke-linejoin="round"/>
<line x1="177.3" y1="94.3" x2="186.7" y2="94.3" stroke="#425a94" stroke-width="1.1"/>
<rect x="265.5" y="104.25" width="103.5" height="242.05" fill="#ece7db"/>
<clipPath id="clip2L"><rect x="265.5" y="104.25" width="52.0" height="242.05"/></clipPath>
<clipPath id="clip2R"><rect x="317.5" y="104.25" width="51.5" height="242.05"/></clipPath>
<g clip-path="url(#clip2L)" stroke="#1c1c1c" stroke-width="1.1" fill="none">
<line x1="265.5" y1="117.57" x2="317.5" y2="88.19"/>
<line x1="265.5" y1="133.00" x2="317.5" y2="103.62"/>
<line x1="265.5" y1="148.43" x2="317.5" y2="119.05"/>
<line x1="265.5" y1="163.86" x2="317.5" y2="134.48"/>
<line x1="265.5" y1="179.29" x2="317.5" y2="149.91"/>
<line x1="265.5" y1="194.72" x2="317.5" y2="165.34"/>
<line x1="265.5" y1="210.15" x2="317.5" y2="180.77"/>
<line x1="265.5" y1="225.58" x2="317.5" y2="196.20"/>
<line x1="265.5" y1="241.01" x2="317.5" y2="211.63"/>
<line x1="265.5" y1="256.44" x2="317.5" y2="227.06"/>
<line x1="265.5" y1="271.87" x2="317.5" y2="242.49"/>
<line x1="265.5" y1="287.30" x2="317.5" y2="257.92"/>
<line x1="265.5" y1="302.73" x2="317.5" y2="273.35"/>
<line x1="265.5" y1="318.16" x2="317.5" y2="288.78"/>
<line x1="265.5" y1="333.59" x2="317.5" y2="304.21"/>
<line x1="265.5" y1="349.02" x2="317.5" y2="319.64"/>
<line x1="265.5" y1="364.45" x2="317.5" y2="335.07"/>
<line x1="265.5" y1="379.88" x2="317.5" y2="350.50"/>
<line x1="265.5" y1="395.31" x2="317.5" y2="365.93"/>
<line x1="265.5" y1="410.74" x2="317.5" y2="381.36"/>
<line x1="265.5" y1="426.17" x2="317.5" y2="396.79"/>
</g>
<g clip-path="url(#clip2R)" stroke="#1c1c1c" stroke-width="1.1" fill="none">
<line x1="369.0" y1="119.55" x2="317.5" y2="148.65"/>
<line x1="369.0" y1="135.00" x2="317.5" y2="164.10"/>
<line x1="369.0" y1="150.45" x2="317.5" y2="179.55"/>
<line x1="369.0" y1="165.90" x2="317.5" y2="195.00"/>
<line x1="369.0" y1="181.35" x2="317.5" y2="210.45"/>
<line x1="369.0" y1="196.80" x2="317.5" y2="225.90"/>
<line x1="369.0" y1="212.25" x2="317.5" y2="241.35"/>
<line x1="369.0" y1="227.70" x2="317.5" y2="256.80"/>
<line x1="369.0" y1="243.15" x2="317.5" y2="272.25"/>
<line x1="369.0" y1="258.60" x2="317.5" y2="287.70"/>
<line x1="369.0" y1="274.05" x2="317.5" y2="303.15"/>
<line x1="369.0" y1="289.50" x2="317.5" y2="318.60"/>
<line x1="369.0" y1="304.95" x2="317.5" y2="334.05"/>
<line x1="369.0" y1="320.40" x2="317.5" y2="349.50"/>
<line x1="369.0" y1="335.85" x2="317.5" y2="364.95"/>
<line x1="369.0" y1="351.30" x2="317.5" y2="380.40"/>
<line x1="369.0" y1="366.75" x2="317.5" y2="395.85"/>
<line x1="369.0" y1="382.20" x2="317.5" y2="411.30"/>
<line x1="369.0" y1="397.65" x2="317.5" y2="426.75"/>
<line x1="369.0" y1="413.10" x2="317.5" y2="442.20"/>
<line x1="369.0" y1="428.55" x2="317.5" y2="457.65"/>
</g>
<clipPath id="sclip"><path d="M265.5,343.2 265.5,343.2 265.5,343.2 280.5,343.0 280.5,343.0 293.5,341.8 293.5,341.8 303.4,341.2 303.5,341.2 303.6,341.2 312.5,342.0 312.5,342.0 324.5,341.3 324.5,341.3 336.5,339.2 336.5,339.2 347.5,338.0 347.5,338.0 347.5,338.0 350.5,336.0 350.5,336.0 350.5,336.0 351.5,332.0 351.5,332.0 351.5,332.0 349.5,325.0 349.5,325.0 349.5,325.0 344.5,314.0 344.5,314.0 341.0,307.5 341.0,307.5 341.0,307.5 337.5,306.0 337.5,306.0 337.5,306.0 295.5,306.0 295.5,306.0 290.5,306.4 290.5,306.4 281.5,307.6 281.5,307.6 273.6,309.2 273.5,309.2 273.4,309.2 265.5,309.6 265.5,309.6 265.5,309.6Z"/></clipPath>
<pattern id="stripe" width="3.5" height="8" patternUnits="userSpaceOnUse" patternTransform="rotate(-47)"><rect width="3.5" height="8" fill="#d66354"/><rect width="1.3" height="8" fill="#eba596"/></pattern>
<path d="M265.5,343.2 265.5,343.2 265.5,343.2 280.5,343.0 280.5,343.0 293.5,341.8 293.5,341.8 303.4,341.2 303.5,341.2 303.6,341.2 312.5,342.0 312.5,342.0 324.5,341.3 324.5,341.3 336.5,339.2 336.5,339.2 347.5,338.0 347.5,338.0 347.5,338.0 350.5,336.0 350.5,336.0 350.5,336.0 351.5,332.0 351.5,332.0 351.5,332.0 349.5,325.0 349.5,325.0 349.5,325.0 344.5,314.0 344.5,314.0 341.0,307.5 341.0,307.5 341.0,307.5 337.5,306.0 337.5,306.0 337.5,306.0 295.5,306.0 295.5,306.0 290.5,306.4 290.5,306.4 281.5,307.6 281.5,307.6 273.6,309.2 273.5,309.2 273.4,309.2 265.5,309.6 265.5,309.6 265.5,309.6Z" fill="url(#stripe)"/>
<g clip-path="url(#sclip)">
<path d="M316.0,304 C316.5,317 306.5,323.5 291.5,325.2 C282.5,326.0 273.5,325.6 264.5,325.2" fill="none" stroke="#e8a593" stroke-width="16.4"/>
</g>
<path d="M316.1,306 C316.1,316.5 308.0,325 292.0,327.7 C283.5,328.8 273.5,328.7 265.5,328.0" fill="none" stroke="#e6eefa" stroke-width="5.5" transform="translate(0.7,0.9)"/>
<path d="M316.1,306 C316.1,316.5 308.0,325 292.0,327.7 C283.5,328.8 273.5,328.7 265.5,328.0" fill="none" stroke="#1d4a9c" stroke-width="4.9"/>
<rect x="265.5" y="104.25" width="103.5" height="2.6" fill="#dfe8f2"/>
<rect x="265.5" y="106.4" width="15.0" height="14.3" fill="#fff" stroke="#1c1c1c" stroke-width="1.4"/>
<path d="M265.5,106.4 L280.5,120.7 M280.5,106.4 L265.5,120.7" stroke="#1c1c1c" stroke-width="1.5" fill="none"/>
<rect x="353.5" y="106.4" width="15.5" height="14.3" fill="#fff" stroke="#1c1c1c" stroke-width="1.4"/>
<path d="M353.5,106.4 L369.0,120.7 M369.0,106.4 L353.5,120.7" stroke="#1c1c1c" stroke-width="1.5" fill="none"/>
<path d="M297.8,135.2 296.9,135.6 296.5,135.9 296.3,136.3 296.1,136.6 295.9,137.0 295.9,137.3 295.9,137.7 295.9,138.0 296.1,138.4 296.3,138.7 296.6,139.1 297.0,139.4 297.5,139.8 296.9,140.1 296.5,140.5 296.2,140.8 296.0,141.2 295.9,141.5 295.9,141.9 295.9,142.2 296.0,142.6 296.1,142.9 296.3,143.3 296.6,143.6 297.1,144.0 297.3,144.3 296.8,144.7 296.4,145.0 296.2,145.4 296.0,145.7 295.9,146.1 295.9,146.4 295.9,146.8 296.0,147.1 296.1,147.5 296.4,147.8 296.7,148.2 297.2,148.5 297.2,148.9 296.7,149.2 296.4,149.6 296.2,149.9 296.0,150.3 295.9,150.6 295.9,151.0 295.9,151.3 296.0,151.7 296.2,152.0 296.4,152.4 296.8,152.7 297.3,153.1 297.1,153.4 296.7,153.8 296.4,154.1 296.1,154.5 296.0,154.8 295.9,155.2 295.9,155.5 295.9,155.9 296.0,156.2 296.2,156.6 296.5,156.9 296.8,157.3 297.4,157.6 297.1,158.0 296.6,158.3 296.3,158.7 296.1,159.0 295.9,159.4 295.9,159.7 295.9,160.1 295.9,160.4 296.0,160.8 296.2,161.1 296.5,161.5 296.9,161.8 297.6,162.2 297.0,162.5 296.6,162.9 296.3,163.2 296.1,163.6 295.9,163.9 295.9,164.3 295.9,164.6 295.9,165.0 296.1,165.3 296.3,165.7 296.6,166.0 297.0,166.4 297.6,166.7 296.9,167.1 296.5,167.4 296.2,167.8 296.0,168.1 295.9,168.5 295.9,168.8 295.9,169.2 295.9,169.5 296.1,169.9 296.3,170.2 296.6,170.6 297.1,170.9 297.4,171.3 296.8,171.6 296.5,172.0 296.2,172.3 296.0,172.7 295.9,173.0 295.9,173.4 295.9,173.7 296.0,174.1 296.1,174.4 296.4,174.8 296.7,175.1 297.1,175.5 297.3,175.8 296.8,176.2 296.4,176.5 296.2,176.9 296.0,177.2 295.9,177.6 295.9,177.9 295.9,178.3 296.0,178.6 296.2,179.0 296.4,179.3 296.7,179.7 297.2,180.0 297.2,180.4 296.7,180.7 296.4,181.1 296.1,181.4 296.0,181.8 295.9,182.1 295.9,182.5 295.9,182.8 296.0,183.2 296.2,183.5 296.4,183.9 296.8,184.2 297.3,184.6 297.1,184.9 296.7,185.3 296.3,185.6 296.1,186.0 296.0,186.3 295.9,186.7 295.9,187.0 295.9,187.4 296.0,187.7 296.2,188.1 296.5,188.4 296.9,188.8 297.5,189.1 297.0,189.5 296.6,189.8 296.3,190.2 296.1,190.5 295.9,190.9 295.9,191.2 295.9,191.6 295.9,191.9 296.0,192.3 296.3,192.6 296.5,193.0 296.9,193.3 297.7,193.7 296.9,194.0 296.5,194.4 296.3,194.7 296.1,195.1 295.9,195.4 295.9,195.8 295.9,196.1 295.9,196.5 296.1,196.8 296.3,197.2 296.6,197.5 297.0,197.9 297.5,198.2 296.9,198.6 296.5,198.9 296.2,199.3 296.0,199.6 295.9,200.0 295.9,200.3 295.9,200.7 296.0,201.1 296.1,201.4 296.3,201.8 296.6,202.1 297.1,202.5 297.4,202.8 296.8,203.2 296.5,203.5 296.2,203.9 296.0,204.2 295.9,204.6 295.9,204.9 295.9,205.3 296.0,205.6 296.1,206.0 296.4,206.3 296.7,206.7 297.2,207.0 297.3,207.4 296.7,207.7 296.4,208.1 296.2,208.4 296.0,208.8 295.9,209.1 295.9,209.5 295.9,209.8 296.0,210.2 296.2,210.5 296.4,210.9 296.8,211.2 297.3,211.6 297.2,211.9 296.7,212.3 296.4,212.6 296.1,213.0 296.0,213.3 295.9,213.7 295.9,214.0 295.9,214.4 296.0,214.7 296.2,215.1 296.5,215.4 296.8,215.8 297.4,216.1 297.1,216.5 296.6,216.8 296.3,217.2 296.1,217.5 295.9,217.9 295.9,218.2 295.9,218.6 295.9,218.9 296.0,219.3 296.2,219.6 296.5,220.0 296.9,220.3 297.5,220.7 297.0,221.0 296.6,221.4 296.3,221.7 296.1,222.1 295.9,222.4 295.9,222.8 295.9,223.1 295.9,223.5 296.1,223.8 296.3,224.2 296.6,224.5 297.0,224.9 297.6,225.2 296.9,225.6 296.5,225.9 296.2,226.3 296.0,226.6 295.9,227.0 295.9,227.3 295.9,227.7 295.9,228.0 296.1,228.4 296.3,228.7 296.6,229.1 297.0,229.4 297.4,229.8 296.8,230.1 296.5,230.5 296.2,230.8 296.0,231.2 295.9,231.5 295.9,231.9 295.9,232.2 296.0,232.6 296.1,232.9 296.3,233.3 296.7,233.6 297.1,234.0 297.3,234.3 296.8,234.7 296.4,235.0 296.2,235.4 296.0,235.7 295.9,236.1 295.9,236.4 295.9,236.8 296.0,237.1 296.1,237.5 296.4,237.8 296.7,238.2 297.2,238.5 297.2,238.9 296.7,239.2 296.4,239.6 296.1,239.9 296.0,240.3 295.9,240.6 295.9,241.0 295.9,241.3 296.0,241.7 296.2,242.0 296.4,242.4 296.8,242.7 297.3,243.1 297.1,243.4 296.7,243.8 296.3,244.1 296.1,244.5 296.0,244.8 295.9,245.2 295.9,245.5 295.9,245.9 296.0,246.2 296.2,246.6 296.5,246.9 296.9,247.3 297.5,247.6 297.0,248.0 296.6,248.3 296.3,248.7 296.1,249.0 295.9,249.4 295.9,249.7 295.9,250.1 295.9,250.4 296.0,250.8 296.2,251.1 296.5,251.5 296.9,251.8 297.6,252.2 297.0,252.5 296.6,252.9 296.3,253.2 296.1,253.6 295.9,253.9 295.9,254.3 295.9,254.6 295.9,255.0 296.1,255.3 296.3,255.7 296.6,256.0 297.0,256.4 297.5,256.7 296.9,257.1 296.5,257.4 296.2,257.8 296.0,258.1 295.9,258.5 295.9,258.8 295.9,259.2 295.9,259.5 296.1,259.9 296.3,260.2 296.6,260.6 297.1,260.9 297.4,261.3 296.8,261.6 296.5,262.0 296.2,262.3 296.0,262.7 295.9,263.0 295.9,263.4 295.9,263.7 296.0,264.1 296.1,264.4 296.4,264.8 296.7,265.1 297.2,265.5 297.3,265.8 296.8,266.2 300.3,266.2 300.3,135.2Z" fill="#d3e2f5" stroke="none"/>
<path d="M297.8,135.2 296.9,135.6 296.5,135.9 296.3,136.3 296.1,136.6 295.9,137.0 295.9,137.3 295.9,137.7 295.9,138.0 296.1,138.4 296.3,138.7 296.6,139.1 297.0,139.4 297.5,139.8 296.9,140.1 296.5,140.5 296.2,140.8 296.0,141.2 295.9,141.5 295.9,141.9 295.9,142.2 296.0,142.6 296.1,142.9 296.3,143.3 296.6,143.6 297.1,144.0 297.3,144.3 296.8,144.7 296.4,145.0 296.2,145.4 296.0,145.7 295.9,146.1 295.9,146.4 295.9,146.8 296.0,147.1 296.1,147.5 296.4,147.8 296.7,148.2 297.2,148.5 297.2,148.9 296.7,149.2 296.4,149.6 296.2,149.9 296.0,150.3 295.9,150.6 295.9,151.0 295.9,151.3 296.0,151.7 296.2,152.0 296.4,152.4 296.8,152.7 297.3,153.1 297.1,153.4 296.7,153.8 296.4,154.1 296.1,154.5 296.0,154.8 295.9,155.2 295.9,155.5 295.9,155.9 296.0,156.2 296.2,156.6 296.5,156.9 296.8,157.3 297.4,157.6 297.1,158.0 296.6,158.3 296.3,158.7 296.1,159.0 295.9,159.4 295.9,159.7 295.9,160.1 295.9,160.4 296.0,160.8 296.2,161.1 296.5,161.5 296.9,161.8 297.6,162.2 297.0,162.5 296.6,162.9 296.3,163.2 296.1,163.6 295.9,163.9 295.9,164.3 295.9,164.6 295.9,165.0 296.1,165.3 296.3,165.7 296.6,166.0 297.0,166.4 297.6,166.7 296.9,167.1 296.5,167.4 296.2,167.8 296.0,168.1 295.9,168.5 295.9,168.8 295.9,169.2 295.9,169.5 296.1,169.9 296.3,170.2 296.6,170.6 297.1,170.9 297.4,171.3 296.8,171.6 296.5,172.0 296.2,172.3 296.0,172.7 295.9,173.0 295.9,173.4 295.9,173.7 296.0,174.1 296.1,174.4 296.4,174.8 296.7,175.1 297.1,175.5 297.3,175.8 296.8,176.2 296.4,176.5 296.2,176.9 296.0,177.2 295.9,177.6 295.9,177.9 295.9,178.3 296.0,178.6 296.2,179.0 296.4,179.3 296.7,179.7 297.2,180.0 297.2,180.4 296.7,180.7 296.4,181.1 296.1,181.4 296.0,181.8 295.9,182.1 295.9,182.5 295.9,182.8 296.0,183.2 296.2,183.5 296.4,183.9 296.8,184.2 297.3,184.6 297.1,184.9 296.7,185.3 296.3,185.6 296.1,186.0 296.0,186.3 295.9,186.7 295.9,187.0 295.9,187.4 296.0,187.7 296.2,188.1 296.5,188.4 296.9,188.8 297.5,189.1 297.0,189.5 296.6,189.8 296.3,190.2 296.1,190.5 295.9,190.9 295.9,191.2 295.9,191.6 295.9,191.9 296.0,192.3 296.3,192.6 296.5,193.0 296.9,193.3 297.7,193.7 296.9,194.0 296.5,194.4 296.3,194.7 296.1,195.1 295.9,195.4 295.9,195.8 295.9,196.1 295.9,196.5 296.1,196.8 296.3,197.2 296.6,197.5 297.0,197.9 297.5,198.2 296.9,198.6 296.5,198.9 296.2,199.3 296.0,199.6 295.9,200.0 295.9,200.3 295.9,200.7 296.0,201.1 296.1,201.4 296.3,201.8 296.6,202.1 297.1,202.5 297.4,202.8 296.8,203.2 296.5,203.5 296.2,203.9 296.0,204.2 295.9,204.6 295.9,204.9 295.9,205.3 296.0,205.6 296.1,206.0 296.4,206.3 296.7,206.7 297.2,207.0 297.3,207.4 296.7,207.7 296.4,208.1 296.2,208.4 296.0,208.8 295.9,209.1 295.9,209.5 295.9,209.8 296.0,210.2 296.2,210.5 296.4,210.9 296.8,211.2 297.3,211.6 297.2,211.9 296.7,212.3 296.4,212.6 296.1,213.0 296.0,213.3 295.9,213.7 295.9,214.0 295.9,214.4 296.0,214.7 296.2,215.1 296.5,215.4 296.8,215.8 297.4,216.1 297.1,216.5 296.6,216.8 296.3,217.2 296.1,217.5 295.9,217.9 295.9,218.2 295.9,218.6 295.9,218.9 296.0,219.3 296.2,219.6 296.5,220.0 296.9,220.3 297.5,220.7 297.0,221.0 296.6,221.4 296.3,221.7 296.1,222.1 295.9,222.4 295.9,222.8 295.9,223.1 295.9,223.5 296.1,223.8 296.3,224.2 296.6,224.5 297.0,224.9 297.6,225.2 296.9,225.6 296.5,225.9 296.2,226.3 296.0,226.6 295.9,227.0 295.9,227.3 295.9,227.7 295.9,228.0 296.1,228.4 296.3,228.7 296.6,229.1 297.0,229.4 297.4,229.8 296.8,230.1 296.5,230.5 296.2,230.8 296.0,231.2 295.9,231.5 295.9,231.9 295.9,232.2 296.0,232.6 296.1,232.9 296.3,233.3 296.7,233.6 297.1,234.0 297.3,234.3 296.8,234.7 296.4,235.0 296.2,235.4 296.0,235.7 295.9,236.1 295.9,236.4 295.9,236.8 296.0,237.1 296.1,237.5 296.4,237.8 296.7,238.2 297.2,238.5 297.2,238.9 296.7,239.2 296.4,239.6 296.1,239.9 296.0,240.3 295.9,240.6 295.9,241.0 295.9,241.3 296.0,241.7 296.2,242.0 296.4,242.4 296.8,242.7 297.3,243.1 297.1,243.4 296.7,243.8 296.3,244.1 296.1,244.5 296.0,244.8 295.9,245.2 295.9,245.5 295.9,245.9 296.0,246.2 296.2,246.6 296.5,246.9 296.9,247.3 297.5,247.6 297.0,248.0 296.6,248.3 296.3,248.7 296.1,249.0 295.9,249.4 295.9,249.7 295.9,250.1 295.9,250.4 296.0,250.8 296.2,251.1 296.5,251.5 296.9,251.8 297.6,252.2 297.0,252.5 296.6,252.9 296.3,253.2 296.1,253.6 295.9,253.9 295.9,254.3 295.9,254.6 295.9,255.0 296.1,255.3 296.3,255.7 296.6,256.0 297.0,256.4 297.5,256.7 296.9,257.1 296.5,257.4 296.2,257.8 296.0,258.1 295.9,258.5 295.9,258.8 295.9,259.2 295.9,259.5 296.1,259.9 296.3,260.2 296.6,260.6 297.1,260.9 297.4,261.3 296.8,261.6 296.5,262.0 296.2,262.3 296.0,262.7 295.9,263.0 295.9,263.4 295.9,263.7 296.0,264.1 296.1,264.4 296.4,264.8 296.7,265.1 297.2,265.5 297.3,265.8 296.8,266.2" fill="none" stroke="#3a5fae" stroke-width="1.1"/>
<path d="M337.4,135.2 338.2,135.6 338.6,135.9 338.8,136.3 339.0,136.6 339.2,137.0 339.2,137.3 339.2,137.7 339.2,138.0 339.0,138.4 338.8,138.7 338.5,139.1 338.1,139.4 337.6,139.8 338.2,140.1 338.6,140.5 338.9,140.8 339.1,141.2 339.2,141.5 339.2,141.9 339.2,142.2 339.1,142.6 339.0,142.9 338.8,143.3 338.5,143.6 338.0,144.0 337.8,144.3 338.3,144.7 338.7,145.0 338.9,145.4 339.1,145.7 339.2,146.1 339.2,146.4 339.2,146.8 339.1,147.1 339.0,147.5 338.7,147.8 338.4,148.2 337.9,148.5 337.9,148.9 338.4,149.2 338.7,149.6 338.9,149.9 339.1,150.3 339.2,150.6 339.2,151.0 339.2,151.3 339.1,151.7 338.9,152.0 338.7,152.4 338.3,152.7 337.8,153.1 338.0,153.4 338.4,153.8 338.7,154.1 339.0,154.5 339.1,154.8 339.2,155.2 339.2,155.5 339.2,155.9 339.1,156.2 338.9,156.6 338.6,156.9 338.3,157.3 337.7,157.6 338.0,158.0 338.5,158.3 338.8,158.7 339.0,159.0 339.2,159.4 339.2,159.7 339.2,160.1 339.2,160.4 339.1,160.8 338.9,161.1 338.6,161.5 338.2,161.8 337.5,162.2 338.1,162.5 338.5,162.9 338.8,163.2 339.0,163.6 339.2,163.9 339.2,164.3 339.2,164.6 339.2,165.0 339.0,165.3 338.8,165.7 338.5,166.0 338.1,166.4 337.5,166.7 338.2,167.1 338.6,167.4 338.9,167.8 339.1,168.1 339.2,168.5 339.2,168.8 339.2,169.2 339.2,169.5 339.0,169.9 338.8,170.2 338.5,170.6 338.0,170.9 337.7,171.3 338.3,171.6 338.6,172.0 338.9,172.3 339.1,172.7 339.2,173.0 339.2,173.4 339.2,173.7 339.1,174.1 339.0,174.4 338.7,174.8 338.4,175.1 338.0,175.5 337.8,175.8 338.3,176.2 338.7,176.5 338.9,176.9 339.1,177.2 339.2,177.6 339.2,177.9 339.2,178.3 339.1,178.6 338.9,179.0 338.7,179.3 338.4,179.7 337.9,180.0 337.9,180.4 338.4,180.7 338.7,181.1 339.0,181.4 339.1,181.8 339.2,182.1 339.2,182.5 339.2,182.8 339.1,183.2 338.9,183.5 338.7,183.9 338.3,184.2 337.8,184.6 338.0,184.9 338.4,185.3 338.8,185.6 339.0,186.0 339.1,186.3 339.2,186.7 339.2,187.0 339.2,187.4 339.1,187.7 338.9,188.1 338.6,188.4 338.2,188.8 337.6,189.1 338.1,189.5 338.5,189.8 338.8,190.2 339.0,190.5 339.2,190.9 339.2,191.2 339.2,191.6 339.2,191.9 339.1,192.3 338.8,192.6 338.6,193.0 338.2,193.3 337.4,193.7 338.2,194.0 338.6,194.4 338.8,194.7 339.0,195.1 339.2,195.4 339.2,195.8 339.2,196.1 339.2,196.5 339.0,196.8 338.8,197.2 338.5,197.5 338.1,197.9 337.6,198.2 338.2,198.6 338.6,198.9 338.9,199.3 339.1,199.6 339.2,200.0 339.2,200.3 339.2,200.7 339.1,201.1 339.0,201.4 338.8,201.8 338.5,202.1 338.0,202.5 337.7,202.8 338.3,203.2 338.6,203.5 338.9,203.9 339.1,204.2 339.2,204.6 339.2,204.9 339.2,205.3 339.1,205.6 339.0,206.0 338.7,206.3 338.4,206.7 337.9,207.0 337.8,207.4 338.4,207.7 338.7,208.1 338.9,208.4 339.1,208.8 339.2,209.1 339.2,209.5 339.2,209.8 339.1,210.2 338.9,210.5 338.7,210.9 338.3,211.2 337.8,211.6 337.9,211.9 338.4,212.3 338.7,212.6 339.0,213.0 339.1,213.3 339.2,213.7 339.2,214.0 339.2,214.4 339.1,214.7 338.9,215.1 338.6,215.4 338.3,215.8 337.7,216.1 338.0,216.5 338.5,216.8 338.8,217.2 339.0,217.5 339.2,217.9 339.2,218.2 339.2,218.6 339.2,218.9 339.1,219.3 338.9,219.6 338.6,220.0 338.2,220.3 337.6,220.7 338.1,221.0 338.5,221.4 338.8,221.7 339.0,222.1 339.2,222.4 339.2,222.8 339.2,223.1 339.2,223.5 339.0,223.8 338.8,224.2 338.5,224.5 338.1,224.9 337.5,225.2 338.2,225.6 338.6,225.9 338.9,226.3 339.1,226.6 339.2,227.0 339.2,227.3 339.2,227.7 339.2,228.0 339.0,228.4 338.8,228.7 338.5,229.1 338.1,229.4 337.7,229.8 338.3,230.1 338.6,230.5 338.9,230.8 339.1,231.2 339.2,231.5 339.2,231.9 339.2,232.2 339.1,232.6 339.0,232.9 338.8,233.3 338.4,233.6 338.0,234.0 337.8,234.3 338.3,234.7 338.7,235.0 338.9,235.4 339.1,235.7 339.2,236.1 339.2,236.4 339.2,236.8 339.1,237.1 339.0,237.5 338.7,237.8 338.4,238.2 337.9,238.5 337.9,238.9 338.4,239.2 338.7,239.6 339.0,239.9 339.1,240.3 339.2,240.6 339.2,241.0 339.2,241.3 339.1,241.7 338.9,242.0 338.7,242.4 338.3,242.7 337.8,243.1 338.0,243.4 338.4,243.8 338.8,244.1 339.0,244.5 339.1,244.8 339.2,245.2 339.2,245.5 339.2,245.9 339.1,246.2 338.9,246.6 338.6,246.9 338.2,247.3 337.6,247.6 338.1,248.0 338.5,248.3 338.8,248.7 339.0,249.0 339.2,249.4 339.2,249.7 339.2,250.1 339.2,250.4 339.1,250.8 338.9,251.1 338.6,251.5 338.2,251.8 337.5,252.2 338.1,252.5 338.5,252.9 338.8,253.2 339.0,253.6 339.2,253.9 339.2,254.3 339.2,254.6 339.2,255.0 339.0,255.3 338.8,255.7 338.5,256.0 338.1,256.4 337.6,256.7 338.2,257.1 338.6,257.4 338.9,257.8 339.1,258.1 339.2,258.5 339.2,258.8 339.2,259.2 339.2,259.5 339.0,259.9 338.8,260.2 338.5,260.6 338.0,260.9 337.7,261.3 338.3,261.6 338.6,262.0 338.9,262.3 339.1,262.7 339.2,263.0 339.2,263.4 339.2,263.7 339.1,264.1 339.0,264.4 338.7,264.8 338.4,265.1 337.9,265.5 337.8,265.8 338.3,266.2 334.8,266.2 334.8,135.2Z" fill="#d3e2f5" stroke="none"/>
<path d="M337.4,135.2 338.2,135.6 338.6,135.9 338.8,136.3 339.0,136.6 339.2,137.0 339.2,137.3 339.2,137.7 339.2,138.0 339.0,138.4 338.8,138.7 338.5,139.1 338.1,139.4 337.6,139.8 338.2,140.1 338.6,140.5 338.9,140.8 339.1,141.2 339.2,141.5 339.2,141.9 339.2,142.2 339.1,142.6 339.0,142.9 338.8,143.3 338.5,143.6 338.0,144.0 337.8,144.3 338.3,144.7 338.7,145.0 338.9,145.4 339.1,145.7 339.2,146.1 339.2,146.4 339.2,146.8 339.1,147.1 339.0,147.5 338.7,147.8 338.4,148.2 337.9,148.5 337.9,148.9 338.4,149.2 338.7,149.6 338.9,149.9 339.1,150.3 339.2,150.6 339.2,151.0 339.2,151.3 339.1,151.7 338.9,152.0 338.7,152.4 338.3,152.7 337.8,153.1 338.0,153.4 338.4,153.8 338.7,154.1 339.0,154.5 339.1,154.8 339.2,155.2 339.2,155.5 339.2,155.9 339.1,156.2 338.9,156.6 338.6,156.9 338.3,157.3 337.7,157.6 338.0,158.0 338.5,158.3 338.8,158.7 339.0,159.0 339.2,159.4 339.2,159.7 339.2,160.1 339.2,160.4 339.1,160.8 338.9,161.1 338.6,161.5 338.2,161.8 337.5,162.2 338.1,162.5 338.5,162.9 338.8,163.2 339.0,163.6 339.2,163.9 339.2,164.3 339.2,164.6 339.2,165.0 339.0,165.3 338.8,165.7 338.5,166.0 338.1,166.4 337.5,166.7 338.2,167.1 338.6,167.4 338.9,167.8 339.1,168.1 339.2,168.5 339.2,168.8 339.2,169.2 339.2,169.5 339.0,169.9 338.8,170.2 338.5,170.6 338.0,170.9 337.7,171.3 338.3,171.6 338.6,172.0 338.9,172.3 339.1,172.7 339.2,173.0 339.2,173.4 339.2,173.7 339.1,174.1 339.0,174.4 338.7,174.8 338.4,175.1 338.0,175.5 337.8,175.8 338.3,176.2 338.7,176.5 338.9,176.9 339.1,177.2 339.2,177.6 339.2,177.9 339.2,178.3 339.1,178.6 338.9,179.0 338.7,179.3 338.4,179.7 337.9,180.0 337.9,180.4 338.4,180.7 338.7,181.1 339.0,181.4 339.1,181.8 339.2,182.1 339.2,182.5 339.2,182.8 339.1,183.2 338.9,183.5 338.7,183.9 338.3,184.2 337.8,184.6 338.0,184.9 338.4,185.3 338.8,185.6 339.0,186.0 339.1,186.3 339.2,186.7 339.2,187.0 339.2,187.4 339.1,187.7 338.9,188.1 338.6,188.4 338.2,188.8 337.6,189.1 338.1,189.5 338.5,189.8 338.8,190.2 339.0,190.5 339.2,190.9 339.2,191.2 339.2,191.6 339.2,191.9 339.1,192.3 338.8,192.6 338.6,193.0 338.2,193.3 337.4,193.7 338.2,194.0 338.6,194.4 338.8,194.7 339.0,195.1 339.2,195.4 339.2,195.8 339.2,196.1 339.2,196.5 339.0,196.8 338.8,197.2 338.5,197.5 338.1,197.9 337.6,198.2 338.2,198.6 338.6,198.9 338.9,199.3 339.1,199.6 339.2,200.0 339.2,200.3 339.2,200.7 339.1,201.1 339.0,201.4 338.8,201.8 338.5,202.1 338.0,202.5 337.7,202.8 338.3,203.2 338.6,203.5 338.9,203.9 339.1,204.2 339.2,204.6 339.2,204.9 339.2,205.3 339.1,205.6 339.0,206.0 338.7,206.3 338.4,206.7 337.9,207.0 337.8,207.4 338.4,207.7 338.7,208.1 338.9,208.4 339.1,208.8 339.2,209.1 339.2,209.5 339.2,209.8 339.1,210.2 338.9,210.5 338.7,210.9 338.3,211.2 337.8,211.6 337.9,211.9 338.4,212.3 338.7,212.6 339.0,213.0 339.1,213.3 339.2,213.7 339.2,214.0 339.2,214.4 339.1,214.7 338.9,215.1 338.6,215.4 338.3,215.8 337.7,216.1 338.0,216.5 338.5,216.8 338.8,217.2 339.0,217.5 339.2,217.9 339.2,218.2 339.2,218.6 339.2,218.9 339.1,219.3 338.9,219.6 338.6,220.0 338.2,220.3 337.6,220.7 338.1,221.0 338.5,221.4 338.8,221.7 339.0,222.1 339.2,222.4 339.2,222.8 339.2,223.1 339.2,223.5 339.0,223.8 338.8,224.2 338.5,224.5 338.1,224.9 337.5,225.2 338.2,225.6 338.6,225.9 338.9,226.3 339.1,226.6 339.2,227.0 339.2,227.3 339.2,227.7 339.2,228.0 339.0,228.4 338.8,228.7 338.5,229.1 338.1,229.4 337.7,229.8 338.3,230.1 338.6,230.5 338.9,230.8 339.1,231.2 339.2,231.5 339.2,231.9 339.2,232.2 339.1,232.6 339.0,232.9 338.8,233.3 338.4,233.6 338.0,234.0 337.8,234.3 338.3,234.7 338.7,235.0 338.9,235.4 339.1,235.7 339.2,236.1 339.2,236.4 339.2,236.8 339.1,237.1 339.0,237.5 338.7,237.8 338.4,238.2 337.9,238.5 337.9,238.9 338.4,239.2 338.7,239.6 339.0,239.9 339.1,240.3 339.2,240.6 339.2,241.0 339.2,241.3 339.1,241.7 338.9,242.0 338.7,242.4 338.3,242.7 337.8,243.1 338.0,243.4 338.4,243.8 338.8,244.1 339.0,244.5 339.1,244.8 339.2,245.2 339.2,245.5 339.2,245.9 339.1,246.2 338.9,246.6 338.6,246.9 338.2,247.3 337.6,247.6 338.1,248.0 338.5,248.3 338.8,248.7 339.0,249.0 339.2,249.4 339.2,249.7 339.2,250.1 339.2,250.4 339.1,250.8 338.9,251.1 338.6,251.5 338.2,251.8 337.5,252.2 338.1,252.5 338.5,252.9 338.8,253.2 339.0,253.6 339.2,253.9 339.2,254.3 339.2,254.6 339.2,255.0 339.0,255.3 338.8,255.7 338.5,256.0 338.1,256.4 337.6,256.7 338.2,257.1 338.6,257.4 338.9,257.8 339.1,258.1 339.2,258.5 339.2,258.8 339.2,259.2 339.2,259.5 339.0,259.9 338.8,260.2 338.5,260.6 338.0,260.9 337.7,261.3 338.3,261.6 338.6,262.0 338.9,262.3 339.1,262.7 339.2,263.0 339.2,263.4 339.2,263.7 339.1,264.1 339.0,264.4 338.7,264.8 338.4,265.1 337.9,265.5 337.8,265.8 338.3,266.2" fill="none" stroke="#3a5fae" stroke-width="1.1"/>
<rect x="300.3" y="135.2" width="34.5" height="131" fill="#f0ebdf" stroke="#4666a6" stroke-width="1.0"/>
<rect x="280.5" y="107.0" width="73.0" height="27.7" fill="#f0ebdf" stroke="#435d94" stroke-width="1.15"/>
<line x1="280.5" y1="106.9" x2="353.5" y2="106.9" stroke="#39476a" stroke-width="2.0"/>
<path d="M265.5,104.25 V346.3 H369.0 V104.25" fill="none" stroke="#1c1c1c" stroke-width="1.3"/>
<line x1="264.85" y1="104.05" x2="369.65" y2="104.05" stroke="#4a4d48" stroke-width="1.1"/>
<path d="M292.5,275.1 292.2,275.5 292.0,275.8 291.8,276.2 291.7,276.5 291.5,276.9 291.5,277.2 291.4,277.6 291.4,277.9 291.4,278.3 291.5,278.6 291.5,279.0 291.7,279.3 291.8,279.7 292.0,280.0 292.2,280.4 292.5,280.7 292.9,281.1 293.5,281.4 292.9,281.8 292.5,282.1 292.2,282.5 292.0,282.8 291.8,283.2 291.7,283.5 291.5,283.9 291.5,284.2 291.4,284.6 291.4,284.9 291.4,285.3 291.5,285.6 291.6,286.0 291.7,286.3 291.8,286.7 292.0,287.0 292.2,287.4 292.5,287.7 292.9,288.1 293.5,288.4 292.9,288.8 292.5,289.1 292.2,289.5 292.0,289.8 291.8,290.2 291.7,290.5 291.5,290.9 291.5,291.2 291.4,291.6 291.4,291.9 291.4,292.3 291.5,292.6 291.6,293.0 291.7,293.3 291.8,293.7 292.0,294.0 292.3,294.4 292.5,294.7 292.9,295.1 293.4,295.4 292.8,295.8 292.5,296.1 292.2,296.5 292.0,296.8 291.8,297.2 291.6,297.5 291.5,297.9 291.5,298.2 291.4,298.6 291.4,298.9 291.4,299.3 291.5,299.6 291.6,300.0 291.7,300.3 291.8,300.7 292.0,301.0 292.3,301.4 292.6,301.7 292.9,302.1 293.4,302.4 292.8,302.8 292.5,303.1 292.2,303.5 292.0,303.8 291.8,304.2 291.6,304.5 291.5,304.9 291.5,305.2 291.4,305.6 291.4,305.9 291.4,306.3 291.5,306.6 291.6,307.0 295.7,307.0 295.7,275.1Z" fill="#d3e2f5" stroke="#4666a6" stroke-width="1.0"/>
<path d="M341.7,275.1 342.0,275.5 342.2,275.8 342.4,276.2 342.5,276.5 342.7,276.9 342.7,277.2 342.8,277.6 342.8,277.9 342.8,278.3 342.7,278.6 342.7,279.0 342.5,279.3 342.4,279.7 342.2,280.0 342.0,280.4 341.7,280.7 341.3,281.1 340.7,281.4 341.3,281.8 341.7,282.1 342.0,282.5 342.2,282.8 342.4,283.2 342.5,283.5 342.7,283.9 342.7,284.2 342.8,284.6 342.8,284.9 342.8,285.3 342.7,285.6 342.6,286.0 342.5,286.3 342.4,286.7 342.2,287.0 342.0,287.4 341.7,287.7 341.3,288.1 340.7,288.4 341.3,288.8 341.7,289.1 342.0,289.5 342.2,289.8 342.4,290.2 342.5,290.5 342.7,290.9 342.7,291.2 342.8,291.6 342.8,291.9 342.8,292.3 342.7,292.6 342.6,293.0 342.5,293.3 342.4,293.7 342.2,294.0 341.9,294.4 341.7,294.7 341.3,295.1 340.8,295.4 341.4,295.8 341.7,296.1 342.0,296.5 342.2,296.8 342.4,297.2 342.6,297.5 342.7,297.9 342.7,298.2 342.8,298.6 342.8,298.9 342.8,299.3 342.7,299.6 342.6,300.0 342.5,300.3 342.4,300.7 342.2,301.0 341.9,301.4 341.6,301.7 341.3,302.1 340.8,302.4 341.4,302.8 341.7,303.1 342.0,303.5 342.2,303.8 342.4,304.2 342.6,304.5 342.7,304.9 342.7,305.2 342.8,305.6 342.8,305.9 342.8,306.3 342.7,306.6 342.6,307.0 338.5,307.0 338.5,275.1Z" fill="#d3e2f5" stroke="#4666a6" stroke-width="1.0"/>
<rect x="295.7" y="266.2" width="43.60000000000002" height="8.9" fill="#f0ebdf" stroke="#4666a6" stroke-width="1.0"/>
<rect x="295.7" y="275.1" width="42.800000000000026" height="30.9" fill="#f0ebdf" stroke="#4666a6" stroke-width="1.0"/>
<line x1="295.7" y1="275.1" x2="339.3" y2="275.1" stroke="#425a94" stroke-width="1.3"/>
<text x="316.7" y="115.6" font-size="4.6" fill="#8c9097" text-anchor="middle" class="t">Frostline</text>
<text x="316.7" y="292.7" font-size="4.8" fill="#8c9097" text-anchor="middle" class="t">Frostline</text>
<path d="M311.80,103.6 V45.40 L313.40,43.80 L315.37,45.40 L317.25,43.80 L319.13,45.40 L321.20,43.80 V103.6" fill="#f1ebe0" stroke="#3a5288" stroke-width="1.25" stroke-linejoin="round"/>
<line x1="311.8" y1="94.3" x2="321.2" y2="94.3" stroke="#425a94" stroke-width="1.1"/>
<text x="25.6" y="121.2" font-size="13.5" fill="#b06053" stroke="#b06053" stroke-width="0.4" class="t" textLength="101.9" lengthAdjust="spacingAndGlyphs">Forhøjelsesring</text>
<line x1="26" y1="126.5" x2="165" y2="126.5" stroke="#b36a63" stroke-width="0.9"/>
<text x="39.3" y="292.0" font-size="13.5" fill="#b06053" stroke="#b06053" stroke-width="0.4" class="t" textLength="88.5" lengthAdjust="spacingAndGlyphs">Forlængerrør</text>
<line x1="39.75" y1="297.1" x2="168.5" y2="297.1" stroke="#b36a63" stroke-width="0.9"/>
<text x="392.6" y="108.5" font-size="13.6" fill="#a26052" stroke="#a26052" stroke-width="0.45" class="t" textLength="29.2" lengthAdjust="spacingAndGlyphs">max</text>
<text x="392.8" y="122.8" font-size="13.2" fill="#a26052" stroke="#a26052" stroke-width="0.45" class="t" textLength="55.6" lengthAdjust="spacingAndGlyphs">200 mm</text>
<path d="M381.05,106.25 h2.4 M382.25,106.25 V135.25 M381.05,135.25 h2.4" stroke="#a26052" stroke-width="0.9" fill="none"/>
<text x="0" y="0" font-size="13.9" fill="#b25c50" class="t" textLength="57.0" lengthAdjust="spacingAndGlyphs" transform="translate(393.9,262.8) rotate(90)">400 mm</text>
<path d="M381.2,274.6 h2.4 M382.4,274.6 V305.9 M381.2,305.9 h2.4" stroke="#b25c50" stroke-width="0.9" fill="none"/>
<path d="M180.6,380.6 L184.8,387.7 L197.4,370.2" fill="none" stroke="#0d0d0d" stroke-width="3.2" stroke-linejoin="miter" stroke-linecap="round"/>
<path d="M310.3,381.9 L314.5,389.0 L327.1,371.5" fill="none" stroke="#0d0d0d" stroke-width="3.2" stroke-linejoin="miter" stroke-linecap="round"/>
<text x="583.4" y="120.9" font-size="13.5" fill="#b06053" stroke="#b06053" stroke-width="0.4" class="t" textLength="102.6" lengthAdjust="spacingAndGlyphs">Forhøjelsesring</text>
<text x="551.8" y="182.6" font-size="13.6" fill="#a55c4e" stroke="#a55c4e" stroke-width="0.5" class="t" textLength="32.0" lengthAdjust="spacingAndGlyphs">LECA</text>
<path d="M566.4,191.2 h3 M567.9,191.2 V229" stroke="#b66a52" stroke-width="1.0" fill="none"/>
<path d="M510.50,302.82 C515.61,304.91 515.61,305.32 525.82,309.08 C536.03,312.84 530.93,311.12 541.14,314.10 C551.35,317.08 546.24,315.73 556.46,318.03 C566.67,320.32 561.56,319.30 571.77,320.98 C581.99,322.67 576.88,321.94 587.09,323.08 C597.31,324.21 592.20,323.75 602.41,324.39 C612.62,325.02 607.52,324.81 617.73,324.98 C627.94,325.16 622.84,325.17 633.05,324.92 C643.26,324.66 638.16,324.89 648.37,324.22 C658.58,323.55 653.48,323.99 663.69,322.90 C673.90,321.81 668.79,322.47 679.01,320.95 C689.22,319.44 684.11,320.32 694.33,318.36 C704.54,316.39 699.43,317.51 709.64,315.06 C719.86,312.62 714.75,313.99 724.96,311.02 C735.18,308.04 730.07,309.70 740.28,306.14 C750.49,302.57 750.49,302.26 755.60,300.32 L757.2,246.6 L510.5,247 Z" fill="#fff" stroke="#3a5090" stroke-width="1.1" stroke-linejoin="round"/>
<pattern id="leca" width="6.4" height="5.6" patternUnits="userSpaceOnUse"><rect width="6.4" height="5.6" fill="#dd8a73"/><g fill="#be5a43" stroke="#a8607a" stroke-width="0.3"><rect x="0.3" y="0.3" width="2.6" height="2.2" rx="0.9"/><rect x="3.5" y="0.3" width="2.6" height="2.2" rx="0.9"/><rect x="-1.3" y="3.1" width="2.6" height="2.2" rx="0.9"/><rect x="1.9" y="3.1" width="2.6" height="2.2" rx="0.9"/><rect x="5.1" y="3.1" width="2.6" height="2.2" rx="0.9"/></g></pattern>
<path d="M510.5,247 A123.5,20 0 0 1 757.3,246.6 A130,31.3 0 0 1 510.5,247 Z" fill="url(#leca)" stroke="#3a5090" stroke-width="1.2" stroke-linejoin="round"/>
<path d="M598.6,246.0 v2.2 a36.2,8.4 0 0 0 72.4,0 v-2.2 Z" fill="#fff" stroke="#3a5090" stroke-width="0.9"/>
<ellipse cx="634.8" cy="246.0" rx="36.2" ry="8.4" fill="#fff" stroke="#3a5090" stroke-width="0.9"/>
<path d="M614.10,246.6 V159.10 L615.75,157.50 L617.79,159.10 L619.73,157.50 L621.67,159.10 L623.80,157.50 V246.6 Z" fill="#fff" stroke="#3a5090" stroke-width="1.1" stroke-linejoin="round"/>
<line x1="614.1" y1="233" x2="623.8000000000001" y2="233" stroke="#3a5090" stroke-width="1.0"/>
<path d="M645.20,246.6 V159.10 L646.88,157.50 L648.96,159.10 L650.94,157.50 L652.92,159.10 L655.10,157.50 V246.6 Z" fill="#fff" stroke="#3a5090" stroke-width="1.1" stroke-linejoin="round"/>
<line x1="645.2" y1="233" x2="655.1" y2="233" stroke="#3a5090" stroke-width="1.0"/>
<text x="615.9" y="290.2" font-size="12.4" fill="#55647c" class="t" textLength="44.2" lengthAdjust="spacingAndGlyphs">frostline</text>
<text x="660.3" y="285.0" font-size="3" fill="#55647c" class="t">®</text>
<text x="0" y="0" font-size="14.2" fill="#a8664f" class="t" textLength="56.2" lengthAdjust="spacingAndGlyphs" transform="translate(775.4,246.6) rotate(90)">200 mm</text>
<path d="M763.9,246.7 h2.4 M765.1,246.7 V302.6 M763.9,302.6 h2.4" stroke="#a8664f" stroke-width="0.9" fill="none"/>
</svg>
</body>
</html>
